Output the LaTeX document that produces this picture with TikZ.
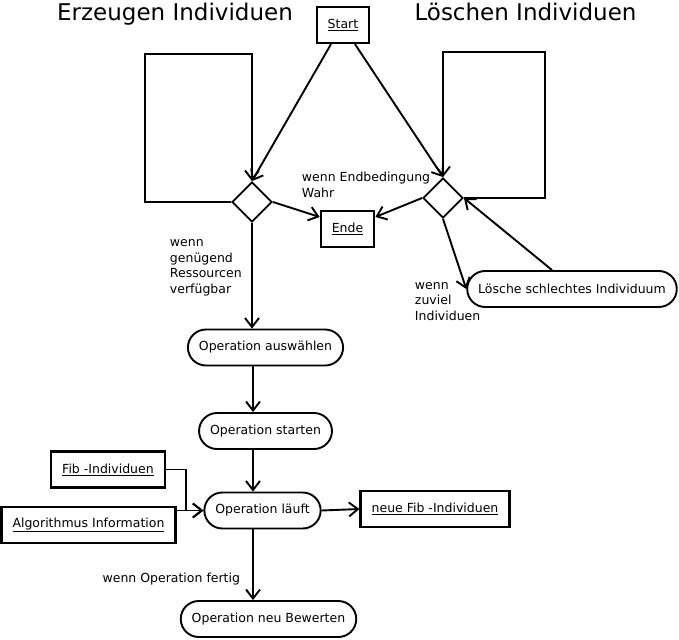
\documentclass[tikz,border=0pt]{standalone}
\usepackage{fontspec}
\setmainfont{DejaVu Sans}
\usetikzlibrary{shapes.geometric,arrows.meta}

\begin{document}
\begin{tikzpicture}[x=1pt, y=-1pt, line width=1.9pt, ->,
    >={Straight Barb[length=9pt,width=14pt]},
    font=\fontsize{12.5}{15.4}\selectfont,
    activity/.style={draw, rounded corners=18pt, minimum height=36pt, inner xsep=11pt},
    object/.style={draw, line width=2.3pt, minimum height=36pt, inner xsep=11pt},
    decision/.style={draw, diamond, minimum size=40pt, inner sep=0pt},
    heading/.style={font=\fontsize{23}{28}\selectfont, inner sep=0pt},
    guard/.style={align=left, inner sep=0pt}]
    \useasboundingbox (0,0) rectangle (679,639);

    \node[heading, anchor=base] (erzeugen) at (175,21) {Erzeugen Individuen};
    \node[heading, anchor=base] (loeschen) at (525.5,21) {Löschen Individuen};

    \node[object] (start) at (343,25) {\underline{Start}};
    \node[decision] (dl) at (252,202) {};
    \node[decision] (dr) at (443,198) {};
    \node[object] (ende) at (347.5,229) {\underline{Ende}};
    \node[activity] (loesche) at (572,289) {Lösche schlechtes Individuum};
    \node[activity] (auswahl) at (265.5,347.5) {Operation auswählen};
    \node[activity] (starten) at (265.5,431) {Operation starten};
    \node[activity] (laeuft) at (262.5,510.5) {Operation läuft};
    \node[activity] (bewerten) at (268.5,619) {Operation neu Bewerten};
    \node[object] (fib) at (108,469.5) {\underline{Fib -Individuen}};
    \node[object] (algo) at (88.5,525) {\underline{Algorithmus Information}};
    \node[object] (neufib) at (435,509) {\underline{neue Fib -Individuen}};

    \coordinate (lt) at (145,54);
    \coordinate (rt) at (545,52);
    \coordinate (col) at (253,0);

    \draw ([xshift=-12pt]start.south) to (dl.north);
    \draw ([xshift=12pt]start.south) to (dr.north);
    \draw (dl.west) -| (lt) -| (dl.north);
    \draw (dr.east) -| (rt) -| (dr.north);
    \draw (dl.east) to ([yshift=12pt]ende.west);
    \draw (dr.west) to ([yshift=12pt]ende.east);
    \draw (dl.south) to (dl.south |- auswahl.north);
    \draw (dr.south) to (loesche.west);
    \draw ([xshift=-20pt]loesche.north) to (dr.east);
    \draw (auswahl.south -| col) to (starten.north -| col);
    \draw (starten.south -| col) to (laeuft.north -| col);
    \draw (laeuft.south -| col) to (bewerten.north -| col);
    \draw (laeuft.east) to (neufib.west);
    \draw (fib.east) -- ++(20,0) |- (laeuft.west);
    \draw (algo.east |- laeuft.west) to (laeuft.west);

    \node[guard, anchor=base west] (endwahr) at (301,197) {wenn Endbedingung\\Wahr};
    \node[guard, anchor=base west] (genug) at (169,293) {wenn\\genügend\\Ressourcen\\verfügbar};
    \node[guard, anchor=base west] (zuviel) at (414,320) {wenn\\zuviel\\Individuen};
    \node[guard, anchor=base east] (fertig) at (241,582) {wenn Operation fertig};
\end{tikzpicture}
\end{document}
